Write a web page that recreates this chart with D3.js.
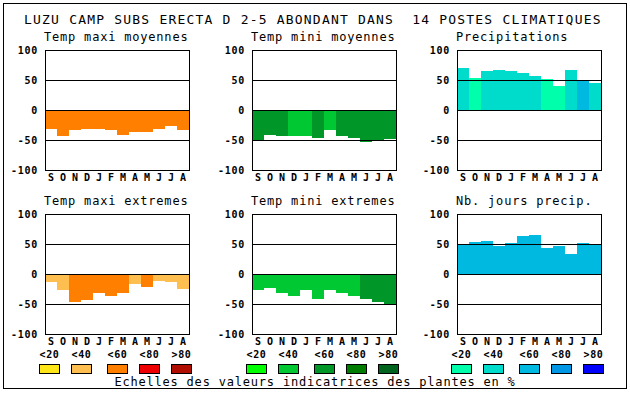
<!DOCTYPE html>
<html>
<head>
<meta charset="utf-8">
<script src="https://cdn.jsdelivr.net/npm/d3@7"></script>
<style>
  body { margin: 0; background: #fff; }
  text { font-family: "DejaVu Sans Mono", monospace; fill: #000; }
</style>
</head>
<body>
<div id="chart"></div>
<script>
// data
const months = ['S', 'O', 'N', 'D', 'J', 'F', 'M', 'A', 'M', 'J', 'J', 'A'];
const levels = ['<20', '<40', '<60', '<80', '>80'];

const maxiMoyValues = [-32, -43, -34, -32, -32, -33, -41, -36, -36, -32, -27, -34];
const maxiMoyLevels = ['<60', '<60', '<60', '<60', '<60', '<60', '<60', '<60', '<60', '<60', '<60', '<60'];

const miniMoyValues = [-50, -42, -44, -44, -43, -46, -33, -44, -47, -53, -50, -48];
const miniMoyLevels = ['<60', '<60', '<60', '<40', '<40', '<60', '<40', '<60', '<60', '<60', '<60', '<60'];

const precipValues = [70, 53, 65, 67, 65, 62, 57, 52, 40, 67, 50, 45];
const precipLevels = ['<40', '<20', '<40', '<40', '<40', '<40', '<40', '<20', '<20', '<40', '<60', '<40'];

const maxiExtValues = [-14, -27, -47, -44, -31, -37, -32, -16, -21, -12, -14, -25];
const maxiExtLevels = ['<40', '<40', '<60', '<60', '<60', '<60', '<60', '<40', '<60', '<40', '<40', '<40'];

const miniExtValues = [-27, -24, -31, -36, -27, -41, -26, -31, -37, -42, -46, -52];
const miniExtLevels = ['<40', '<40', '<40', '<40', '<40', '<40', '<40', '<40', '<40', '<60', '<60', '<60'];

const joursValues = [50, 54, 55, 47, 52, 64, 65, 44, 47, 34, 52, 50];
const joursLevels = ['<60', '<60', '<60', '<60', '<60', '<60', '<60', '<60', '<60', '<60', '<60', '<60'];

const yTicks = [-100, -50, 0, 50, 100];
const gridValues = [50, 0, -50];

const palettes = {
    red: ['#ffe619', '#ffbf50', '#ff8000', '#ee0000', '#b00e00'],
    green: ['#00ff00', '#00c832', '#009628', '#007d00', '#00641e'],
    blue: ['#00ffaa', '#00dccc', '#00b9e0', '#0096e6', '#0000ff'],
};

const panels = [
    { title: 'Temp maxi moyennes', values: maxiMoyValues, levels: maxiMoyLevels, pal: 'red', col: 0, row: 0 },
    { title: 'Temp mini moyennes', values: miniMoyValues, levels: miniMoyLevels, pal: 'green', col: 1, row: 0 },
    { title: 'Precipitations', values: precipValues, levels: precipLevels, pal: 'blue', col: 2, row: 0 },
    { title: 'Temp maxi extremes', values: maxiExtValues, levels: maxiExtLevels, pal: 'red', col: 0, row: 1 },
    { title: 'Temp mini extremes', values: miniExtValues, levels: miniExtLevels, pal: 'green', col: 1, row: 1 },
    { title: 'Nb. jours precip.', values: joursValues, levels: joursLevels, pal: 'blue', col: 2, row: 1 },
];

const width = 630, height = 394;
const colX = [45, 252, 457];
const rowY = [50, 214];
const pw = 144, ph = 120;

const svg = d3.select('#chart')
    .append('svg')
    .attr('width', width)
    .attr('height', height);

svg.append('rect')
    .attr('x', 3.5).attr('y', 3.5)
    .attr('width', 623).attr('height', 385)
    .attr('fill', 'none')
    .attr('stroke', '#000');

svg.append('text')
    .attr('x', 24).attr('y', 24)
    .style('font-size', '13px')
    .style('letter-spacing', '1.2px')
    .style('white-space', 'pre')
    .text('LUZU CAMP SUBS ERECTA D 2-5 ABONDANT DANS  14 POSTES CLIMATIQUES');

const x = d3.scaleBand().domain(d3.range(12)).range([0, pw]);
const y = d3.scaleLinear().domain([-100, 100]).range([ph, 0]);

panels.forEach(p => {
    const color = d3.scaleOrdinal().domain(levels).range(palettes[p.pal]);
    const g = svg.append('g')
        .attr('transform', 'translate(' + colX[p.col] + ',' + rowY[p.row] + ')');

    g.append('text')
        .attr('x', -1).attr('y', -9)
        .style('font-size', '12px')
        .style('letter-spacing', '0.8px')
        .text(p.title);

    // bars
    g.selectAll('rect.bar')
        .data(p.values)
        .enter()
        .append('rect')
        .attr('class', 'bar')
        .attr('x', (d, i) => x(i))
        .attr('width', x.bandwidth())
        .attr('y', d => y(Math.max(0, d)))
        .attr('height', d => Math.abs(y(d) - y(0)))
        .attr('fill', (d, i) => color(p.levels[i]))
        .attr('shape-rendering', 'crispEdges');

    // horizontal lines at 50, 0, -50
    g.selectAll('line.grid')
        .data(gridValues)
        .enter()
        .append('line')
        .attr('x1', 0).attr('x2', pw)
        .attr('y1', d => Math.round(y(d)) + 0.5)
        .attr('y2', d => Math.round(y(d)) + 0.5)
        .attr('stroke', '#000');

    g.append('rect')
        .attr('x', 0.5).attr('y', 0.5)
        .attr('width', pw).attr('height', ph)
        .attr('fill', 'none')
        .attr('stroke', '#000');

    const yAxis = g.append('g')
        .call(d3.axisLeft(y).tickValues(yTicks).tickSize(0).tickPadding(7).tickFormat(d3.format('d')));
    yAxis.select('.domain').remove();
    yAxis.selectAll('text')
        .style('font-family', '"DejaVu Sans Mono", monospace')
        .style('font-size', '10px')
        .style('font-weight', 'bold')
        .style('letter-spacing', '0.7px')
        .text(d => d3.format('d')(d).replace('\u2212', '-'));

    const xAxis = g.append('g')
        .attr('transform', 'translate(0,' + ph + ')')
        .call(d3.axisBottom(x).tickSize(0).tickPadding(4).tickFormat(i => months[i]));
    xAxis.select('.domain').remove();
    xAxis.selectAll('text')
        .style('font-family', '"DejaVu Sans Mono", monospace')
        .style('font-size', '10px')
        .style('font-weight', 'bold');
});

// legends
const legendOffsets = [0, 32, 68, 100, 132];
['red', 'green', 'blue'].forEach((pal, k) => {
    const g = svg.append('g')
        .attr('transform', 'translate(' + (colX[k] - 6) + ',0)');
    g.selectAll('rect')
        .data(levels)
        .enter()
        .append('rect')
        .attr('x', (d, i) => legendOffsets[i] + 0.5)
        .attr('y', 364.5)
        .attr('width', 20).attr('height', 9)
        .attr('fill', (d, i) => palettes[pal][i])
        .attr('stroke', '#000');
    g.selectAll('text')
        .data(levels)
        .enter()
        .append('text')
        .attr('x', (d, i) => legendOffsets[i] + 10.5)
        .attr('y', 358)
        .attr('text-anchor', 'middle')
        .style('font-size', '10px')
        .style('font-weight', 'bold')
        .style('letter-spacing', '0.7px')
        .text(d => d);
});

svg.append('text')
    .attr('x', 315).attr('y', 386)
    .attr('text-anchor', 'middle')
    .style('font-size', '12px')
    .style('letter-spacing', '0.8px')
    .text('Echelles des valeurs indicatrices des plantes en %');
</script>
</body>
</html>
